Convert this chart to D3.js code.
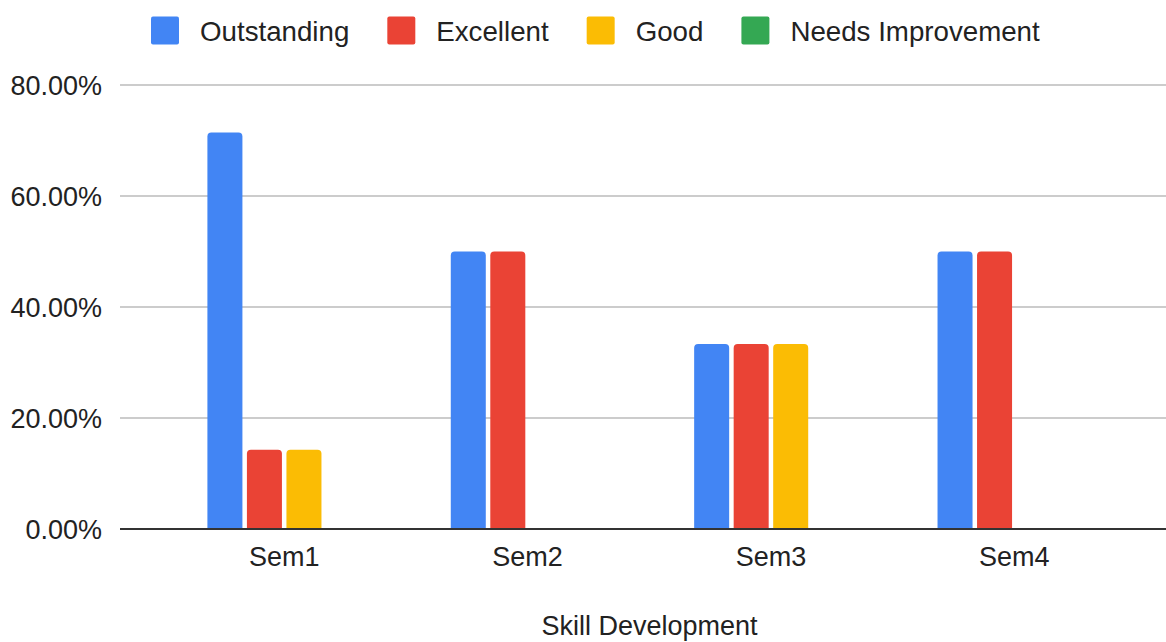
<!DOCTYPE html>
<html>
<head>
<meta charset="utf-8">
<script src="https://cdn.jsdelivr.net/npm/d3@7"></script>
<style>
  html, body { margin: 0; padding: 0; background: #fff; }
  svg { display: block; font-family: "Liberation Sans", Arial, sans-serif; }
</style>
</head>
<body>
<svg id="chart" width="1166" height="642"></svg>
<script>
// ---- data ----
const categories = ["Sem1", "Sem2", "Sem3", "Sem4"];
const seriesNames = ["Outstanding", "Excellent", "Good", "Needs Improvement"];
const outstanding = [0.7143, 0.50, 0.3333, 0.50];
const excellent   = [0.1429, 0.50, 0.3333, 0.50];
const good        = [0.1429, 0.00, 0.3333, 0.00];
const needsImprovement = [0.00, 0.00, 0.00, 0.00];
const yTicks = [0, 0.2, 0.4, 0.6, 0.8];
const xTitle = "Skill Development";
const colors = ["#4285F4", "#EA4335", "#FBBC04", "#34A853"];

const seriesValues = [outstanding, excellent, good, needsImprovement];

// ---- layout ----
const svg = d3.select("#chart");
const plotLeft = 120, plotRight = 1166;

const y = d3.scaleLinear().domain([0, 0.8]).range([529, 85]);
const x0 = d3.scaleBand().domain(categories)
  .range([162.5, 1136]).paddingInner(0.369).paddingOuter(0.1845);
const x1 = d3.scaleBand().domain(seriesNames)
  .range([0, x0.bandwidth()]).paddingInner(0.114).paddingOuter(0);
const color = d3.scaleOrdinal().domain(seriesNames).range(colors);
const fmt = d3.format(".2%");
const textColor = "#222";

// gridlines
svg.append("g").selectAll("line")
  .data(yTicks.filter(d => d !== 0))
  .join("line")
  .attr("x1", plotLeft).attr("x2", plotRight)
  .attr("y1", d => y(d)).attr("y2", d => y(d))
  .attr("stroke", "#cccccc").attr("stroke-width", 2);

// y tick labels
svg.append("g").selectAll("text")
  .data(yTicks)
  .join("text")
  .attr("x", 102)
  .attr("y", d => y(d) + 9.5)
  .attr("text-anchor", "end")
  .attr("font-size", 27)
  .attr("fill", textColor)
  .text(d => fmt(d));

// bars
function topRoundedRect(x, yTop, w, h, r) {
  if (h <= 0) return "";
  r = Math.min(r, h, w / 2);
  return `M${x},${yTop + h}V${yTop + r}Q${x},${yTop} ${x + r},${yTop}` +
         `H${x + w - r}Q${x + w},${yTop} ${x + w},${yTop + r}V${yTop + h}Z`;
}

const rows = [];
categories.forEach((c, i) => {
  seriesNames.forEach((s, j) => {
    rows.push({ cat: c, series: s, value: seriesValues[j][i] });
  });
});

svg.append("g").selectAll("path")
  .data(rows.filter(d => d.value > 0))
  .join("path")
  .attr("d", d => {
    const bx = x0(d.cat) + x1(d.series);
    const top = y(d.value);
    return topRoundedRect(bx, top, x1.bandwidth(), y(0) - top, 4);
  })
  .attr("fill", d => color(d.series));

// baseline
svg.append("line")
  .attr("x1", plotLeft).attr("x2", plotRight)
  .attr("y1", y(0)).attr("y2", y(0))
  .attr("stroke", "#333").attr("stroke-width", 2);

// x labels
svg.append("g").selectAll("text")
  .data(categories)
  .join("text")
  .attr("x", d => x0(d) + x0.bandwidth() / 2)
  .attr("y", 566)
  .attr("text-anchor", "middle")
  .attr("font-size", 27)
  .attr("fill", textColor)
  .text(d => d);

// x title
svg.append("text")
  .attr("x", 649.5).attr("y", 635)
  .attr("text-anchor", "middle")
  .attr("font-size", 27)
  .attr("fill", textColor)
  .text(xTitle);

// legend
const legend = svg.append("g");
let lx = 151;
seriesNames.forEach((s, j) => {
  legend.append("rect")
    .attr("x", lx).attr("y", 16.5)
    .attr("width", 28).attr("height", 28)
    .attr("rx", 2)
    .attr("fill", color(s));
  const t = legend.append("text")
    .attr("x", lx + 49).attr("y", 41)
    .attr("font-size", 27.7)
    .attr("fill", textColor)
    .text(s);
  const w = t.node().getComputedTextLength();
  lx = lx + 49 + w + 38;
});
</script>
</body>
</html>
